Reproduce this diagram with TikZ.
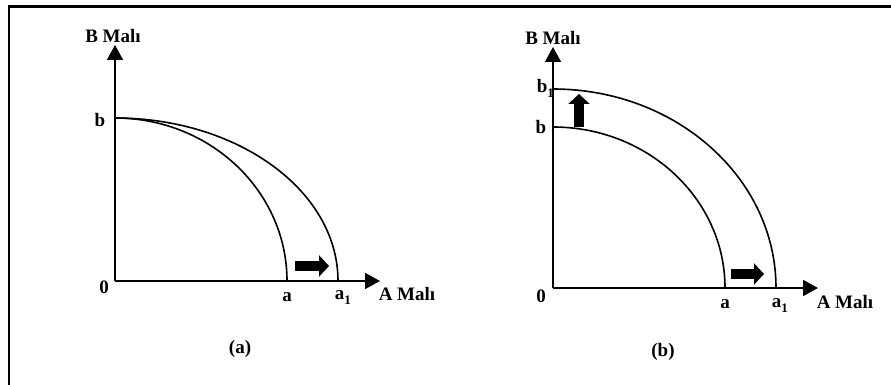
\documentclass[tikz,border=0pt]{standalone}
\usepackage{fontspec}
\setmainfont{Liberation Serif}
\usetikzlibrary{arrows.meta}
\newcommand{\lowone}{\raisebox{-5pt}{\fontsize{13}{13}\selectfont 1}}
\tikzset{
  every picture/.style={line width=1.6pt},
  lbl/.style={font=\bfseries\fontsize{19}{20}\selectfont, inner sep=0pt},
  axis/.style={-{Triangle[length=15pt,width=16pt]}},
  curve/.style={line width=1.6pt},
  fatarrow/.style={line width=10pt, -{Triangle[length=10pt,width=21pt]}},
}
\begin{document}
\begin{tikzpicture}[x=1pt, y=1pt]
  \useasboundingbox (0,0) rectangle (891,-385);
  % frame
  \draw[line width=2.4pt] (9,-385) -- (9,-6.5) -- (891,-6.5);
  % panel (a)
  \coordinate (oa) at (115,-281);
  \coordinate (ya) at (115,-45);
  \coordinate (xa) at (380,-281);
  \draw[axis] (oa) -- (ya);
  \draw[axis] (oa) -- (xa);
  \draw[curve] (115,-118) arc[start angle=90, end angle=0, x radius=172, y radius=163];
  \draw[curve] (115,-118) arc[start angle=90, end angle=0, x radius=223, y radius=163];
  \coordinate (ra1) at (295,-266);
  \coordinate (ra2) at (329,-266);
  \draw[fatarrow] (ra1) -- (ra2);
  \node[lbl] (Ba) at (113,-36) {B Malı};
  \node[lbl] (ba) at (100,-120) {b};
  \node[lbl] (0a) at (104,-287) {0};
  \node[lbl] (aa) at (287,-297) {a};
  \node[lbl, anchor=west] (a1a) at (334,-298) {a\lowone};
  \node[lbl] (Aa) at (407,-294) {A Malı};
  \node[lbl] (capa) at (240,-349) {(a)};
  % panel (b)
  \coordinate (ob) at (553,-288);
  \coordinate (yb) at (553,-47);
  \coordinate (xb) at (818,-288);
  \draw[axis] (ob) -- (yb);
  \draw[axis] (ob) -- (xb);
  \draw[curve] (553,-127) arc[start angle=90, end angle=0, x radius=172, y radius=161];
  \draw[curve] (553,-89) arc[start angle=90, end angle=0, x radius=223, y radius=199];
  \coordinate (rb1) at (731,-274);
  \coordinate (rb2) at (764,-274);
  \draw[fatarrow] (rb1) -- (rb2);
  \coordinate (ub1) at (579,-127);
  \coordinate (ub2) at (579,-94);
  \draw[fatarrow] (ub1) -- (ub2);
  \node[lbl] (Bb) at (553,-38) {B Malı};
  \node[lbl, anchor=west] (b1b) at (536,-88) {b\lowone};
  \node[lbl] (bb) at (541,-127) {b};
  \node[lbl] (0b) at (541,-296) {0};
  \node[lbl] (ab) at (725,-304) {a};
  \node[lbl, anchor=west] (a1b) at (771,-306) {a\lowone};
  \node[lbl] (Ab) at (845,-302) {A Malı};
  \node[lbl] (capb) at (663,-352) {(b)};
\end{tikzpicture}
\end{document}
